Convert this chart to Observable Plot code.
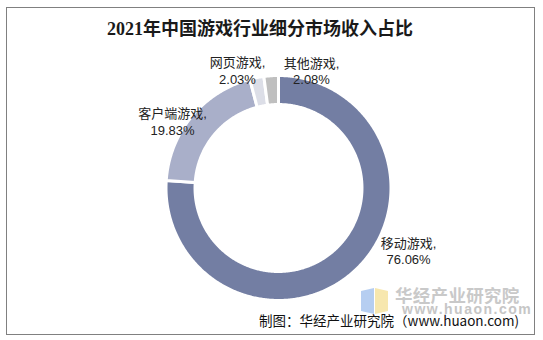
<!DOCTYPE html>
<html>
<head>
<meta charset="utf-8">
<script src="https://cdn.jsdelivr.net/npm/d3@7"></script>
<script src="https://cdn.jsdelivr.net/npm/@observablehq/plot@0.6"></script>
<style>
  html, body { margin: 0; padding: 0; background: #fff; }
  #wrap { position: relative; width: 543px; height: 340px; overflow: hidden;
          font-family: "Liberation Sans", "Noto Sans CJK SC", sans-serif; }
  #frame { position: absolute; left: 6px; top: 7px; width: 529px; height: 328px;
           border: 1px solid #808080; box-sizing: border-box; }
  #title { position: absolute; left: 0; top: 19px; width: 520px; text-align: center;
           font-family: "Liberation Serif", "Noto Sans CJK SC", serif; font-weight: bold;
           font-size: 18px; line-height: 20px; color: #1a1a1a; }
  #chart { position: absolute; left: 0; top: 0; }
  #wm { position: absolute; left: 395px; top: 285px; color: #c9c9c9; font-weight: bold;
        font-family: "Noto Sans CJK SC", sans-serif; font-size: 17.5px; line-height: 20px; letter-spacing: 0.3px; }
  #wmurl { position: absolute; left: 402px; top: 302px; color: #c6c6c6; font-weight: bold;
        font-size: 14px; line-height: 14px; letter-spacing: 1.5px; }
  #icon { position: absolute; left: 360px; top: 287px; }
  #caption { position: absolute; right: 24px; top: 312px; font-size: 13.5px; color: #111;
             font-family: "Noto Sans CJK SC", sans-serif; line-height: 16px; white-space: nowrap; }
</style>
</head>
<body>
<div id="wrap">
  <div id="frame"></div>
  <div id="title"></div>
  <svg id="icon" width="30" height="28" viewBox="0 0 30 28">
    <polygon points="1,4 14,1 14,27 1,24" fill="#a9c6ef" opacity="0.85"/>
    <polygon points="15,1 28,4 28,24 15,27" fill="#f6e3a0" opacity="0.85"/>
  </svg>
  <div id="wm">华经产业研究院</div>
  <div id="wmurl">www.huaon.com</div>
  <div id="chart"></div>
  <div id="caption"></div>
</div>
<script>
// ---- data ----
const titleText = "2021年中国游戏行业细分市场收入占比";
const captionText = "制图：华经产业研究院（www.huaon.com)";
const categories = ["移动游戏", "客户端游戏", "网页游戏", "其他游戏"];
const shares = [76.06, 19.83, 2.03, 2.08];

// ---- styles / layout ----
const colors = ["#737EA3", "#A9AFC9", "#DCDEE7", "#BFBFBF"];
const W = 543, H = 340;
const cx = 278, cy = 187.5, unit = 112.5;   // ring centre & outer radius (px)
const innerRatio = 0.742;
const labelRadius = 1.1;
const labelOffsets = {
  "移动游戏": [0.405, 0.247],
  "客户端游戏": [-0.093, -0.109],
  "网页游戏": [-0.152, -0.035],
  "其他游戏": [0.365, -0.054]
};

document.getElementById("title").textContent = titleText;
document.getElementById("caption").textContent = captionText;

const data = categories.map((name, i) => ({name, value: shares[i]}));
const arcs = d3.pie().sort(null).value(d => d.value)(data);

// polygon outline of each ring slice, from the pie angles
const ringPts = [];
for (const a of arcs) {
  const n = Math.max(2, Math.ceil((a.endAngle - a.startAngle) / 0.01));
  const poly = [];
  for (let k = 0; k <= n; k++) {
    const t = a.startAngle + (a.endAngle - a.startAngle) * k / n;
    poly.push([Math.sin(t), Math.cos(t)]);
  }
  for (let k = n; k >= 0; k--) {
    const t = a.startAngle + (a.endAngle - a.startAngle) * k / n;
    poly.push([innerRatio * Math.sin(t), innerRatio * Math.cos(t)]);
  }
  poly.push(poly[0]);
  for (const [x, y] of poly) ringPts.push({name: a.data.name, x, y});
}

const labels = arcs.map(a => {
  const mid = (a.startAngle + a.endAngle) / 2;
  const off = labelOffsets[a.data.name];
  return {
    name: a.data.name,
    x: labelRadius * Math.sin(mid) + off[0],
    y: labelRadius * Math.cos(mid) + off[1],
    text: `${a.data.name},\n${a.data.value.toFixed(2)}%`
  };
});

const chart = Plot.plot({
  width: W, height: H,
  margin: 0,
  style: {background: "transparent", overflow: "visible"},
  x: {domain: [-cx / unit, (W - cx) / unit], axis: null},
  y: {domain: [-(H - cy) / unit, cy / unit], axis: null},
  color: {domain: categories, range: colors},
  marks: [
    Plot.line(ringPts, {x: "x", y: "y", z: "name", fill: "name", stroke: "white", strokeWidth: 3, curve: "linear"}),
    Plot.text(labels, {x: "x", y: "y", text: "text", fontSize: 13, lineHeight: 1.3, fill: "#222",
      fontFamily: "'Liberation Sans','Noto Sans CJK SC',sans-serif"})
  ]
});
document.getElementById("chart").appendChild(chart);
</script>
</body>
</html>
